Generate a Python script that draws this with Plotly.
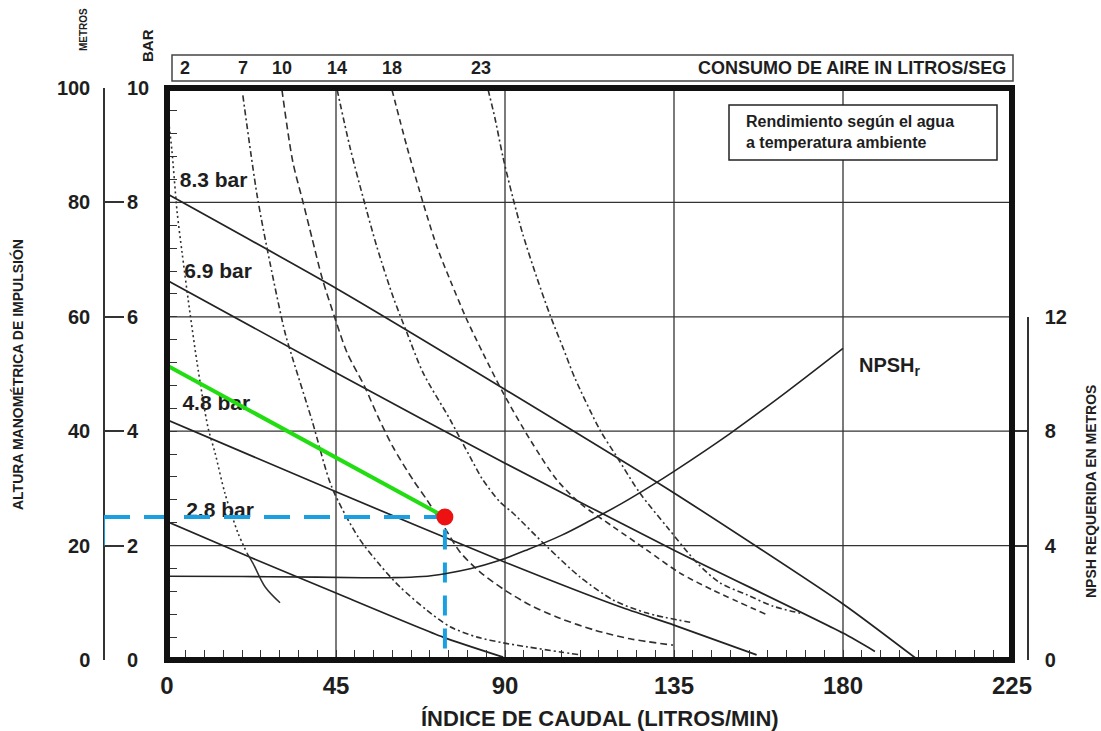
import plotly.graph_objects as go

# ---------------- data ----------------
flow_ticks = [0, 45, 90, 135, 180, 225]          # L/min
head_m_ticks = [0, 20, 40, 60, 80, 100]          # metros
head_bar_ticks = [0, 2, 4, 6, 8, 10]             # bar
npsh_ticks = [0, 4, 8, 12]                       # m NPSH
flow_minor_step = 5
head_minor_step = 4

pressure_labels = ["8.3 bar", "6.9 bar", "4.8 bar", "2.8 bar"]
p83_x = [0, 45, 90, 135, 180, 200]
p83_y = [81.5, 65.0, 47.3, 29.2, 9.8, 0.0]
p69_x = [0, 45, 90, 135, 180, 188.5]
p69_y = [66.4, 50.2, 34.4, 19.2, 4.7, 1.5]
p48_x = [0, 45, 90, 120.6, 135, 157]
p48_y = [42.0, 29.4, 17.1, 9.3, 6.1, 0.9]
p28_x = [0, 22, 45, 73.5, 89.5]
p28_y = [24.2, 18.0, 11.7, 4.0, 0.5]

air_labels = ["2", "7", "10", "14", "18", "23"]   # litros/seg
air2_x = [0.3, 1.3, 2.7, 4.0, 5.6, 8.0, 10.9, 12.8, 15.4, 18.9, 21.3]
air2_y = [95.0, 89.1, 78.3, 71.3, 63.2, 52.0, 40.7, 36.2, 29.2, 22.2, 18.7]
air2_end_x = [21.3, 22.9, 26.1, 30.1]
air2_end_y = [18.7, 16.9, 12.8, 10.0]
air7_x = [20.2, 24.0, 27.4, 31.4, 33.6, 38.6, 43.9, 50.9, 56.7, 62.0, 69.2, 75.4, 82.6, 89.5, 95.9, 104.7, 110.0]
air7_y = [98.7, 81.2, 69.5, 57.3, 52.4, 41.9, 30.2, 21.5, 16.6, 12.8, 8.7, 5.8, 4.0, 3.0, 2.3, 1.4, 0.9]
air10_x = [30.6, 33.5, 36.2, 38.6, 41.3, 44.7, 47.9, 52.7, 56.2, 60.2, 65.5, 69.2, 73.5, 78.0, 83.3, 90.0, 96.7, 104.6, 114.0, 123.3, 134.7]
air10_y = [99.7, 87.1, 80.1, 73.8, 66.8, 59.8, 53.8, 47.7, 42.5, 37.2, 31.5, 28.0, 23.6, 18.9, 15.4, 12.2, 9.6, 7.3, 5.2, 3.7, 2.6]
air14_x = [45.3, 48.7, 52.2, 55.9, 60.2, 63.9, 68.2, 75.4, 80.7, 84.1, 88.7, 92.1, 101.2, 110.0, 118.8, 127.8, 139.3]
air14_y = [99.7, 89.7, 80.9, 72.2, 63.5, 57.2, 50.2, 42.0, 35.5, 31.5, 27.6, 25.7, 19.8, 14.5, 10.5, 8.2, 6.6]
air18_x = [59.9, 63.9, 68.2, 71.9, 75.4, 79.9, 84.1, 89.5, 96.7, 103.8, 110.0, 118.8, 127.8, 136.6, 145.4, 159.8]
air18_y = [99.7, 89.7, 79.9, 72.2, 66.4, 59.4, 53.7, 46.7, 38.5, 31.5, 27.4, 23.3, 19.2, 15.2, 12.2, 7.9]
air23_x = [85.5, 87.3, 89.5, 92.1, 94.8, 98.5, 102.0, 105.5, 108.6, 115.3, 119.8, 125.9, 133.1, 141.1, 147.2, 154.4, 161.4, 168.6]
air23_y = [99.7, 94.8, 87.8, 80.8, 74.3, 66.8, 60.3, 54.5, 49.3, 40.2, 35.5, 29.2, 23.3, 17.0, 13.5, 11.4, 9.4, 8.2]

npsh_x = [0, 20, 40, 52, 60, 68, 74, 81, 88, 96, 105, 113, 121, 129, 135, 150, 165, 180]
npsh_y = [2.93, 2.92, 2.9, 2.88, 2.88, 2.92, 3.02, 3.2, 3.46, 3.86, 4.36, 4.9, 5.47, 6.1, 6.6, 7.93, 9.38, 10.9]

pump_x = [0, 74]
pump_y = [51.5, 25.0]
op_flow = 74
op_head = 25

# ---------------- layout geometry (pixels) ----------------
W, H = 1101, 731
L, R, T, B = 167, 1012, 88, 660
AX_OUT = 104
BAR_LBL_X = 126
NPSH_AX = 1028
NPSH_TOP = 317


def fx(p):
    return p / W


def fy(p):
    return 1 - p / H


XMAX = flow_ticks[-1]
x2_left = -(L - AX_OUT) / (R - L) * XMAX

BOLD = "Liberation Sans, Arial, sans-serif"
TXT = "#1e1e1e"
LINE = "#232323"
CURVE = "#303030"

fig = go.Figure()

# pressure labels (text trace so the guide line can pass over them)
lbl_x = [3.4, 4.6, 4.1, 5.1]
lbl_y = [83.6, 67.7, 44.6, 25.9]
fig.add_trace(go.Scatter(x=lbl_x, y=lbl_y, text=pressure_labels, mode="text",
                         textposition="middle right",
                         textfont=dict(family=BOLD, size=21, color=TXT, weight="bold"),
                         showlegend=False, hoverinfo="skip"))

# solid pressure lines
for xs, ys in [(p83_x, p83_y), (p69_x, p69_y), (p48_x, p48_y), (p28_x, p28_y)]:
    fig.add_trace(go.Scatter(x=xs, y=ys, mode="lines", line=dict(color=LINE, width=1.7, shape="spline", smoothing=0.6),
                             showlegend=False, hoverinfo="skip"))

# air consumption curves
air_curves = [
    (air2_x, air2_y, "2px,3px"),
    (air7_x, air7_y, "6px,3px,2px,3px"),
    (air10_x, air10_y, "7px,4px"),
    (air14_x, air14_y, "6px,3px,2px,3px"),
    (air18_x, air18_y, "6px,4px"),
    (air23_x, air23_y, "6px,3px,2px,3px"),
]
for xs, ys, d in air_curves:
    fig.add_trace(go.Scatter(x=xs, y=ys, mode="lines",
                             line=dict(color=CURVE, width=1.6, dash=d, shape="spline", smoothing=0.8),
                             showlegend=False, hoverinfo="skip"))
fig.add_trace(go.Scatter(x=air2_end_x, y=air2_end_y, mode="lines",
                         line=dict(color=CURVE, width=1.5, shape="spline"),
                         showlegend=False, hoverinfo="skip"))

# NPSHr curve on right axis
fig.add_trace(go.Scatter(x=npsh_x, y=npsh_y, mode="lines", xaxis="x", yaxis="y4",
                         line=dict(color=LINE, width=1.6, shape="spline", smoothing=1.0),
                         showlegend=False, hoverinfo="skip"))

# pump line (green)
fig.add_trace(go.Scatter(x=pump_x, y=pump_y, mode="lines", line=dict(color="#22dd11", width=4),
                         showlegend=False, hoverinfo="skip"))

# vertical guide from operating point to the flow axis
fig.add_trace(go.Scatter(x=[op_flow, op_flow], y=[op_head - 2.2, 0], mode="lines",
                         line=dict(color="#1aa0e0", width=4, dash="20px,13px"),
                         showlegend=False, hoverinfo="skip"))

# dummy traces for outer left axes
fig.add_trace(go.Scatter(x=[None], y=[None], yaxis="y2", showlegend=False, hoverinfo="skip"))
fig.add_trace(go.Scatter(x=[None], y=[None], yaxis="y3", showlegend=False, hoverinfo="skip"))

# horizontal guide to the outer head axis (x2 shares flow units but extends left)
fig.add_trace(go.Scatter(x=[x2_left, op_flow], y=[op_head, op_head], mode="lines", xaxis="x2", yaxis="y",
                         line=dict(color="#1aa0e0", width=4, dash="26px,14px"),
                         showlegend=False, hoverinfo="skip"))
fig.add_trace(go.Scatter(x=[x2_left, x2_left], y=[head_m_ticks[1], op_head], mode="lines", xaxis="x2", yaxis="y",
                         line=dict(color="#1aa0e0", width=2),
                         showlegend=False, hoverinfo="skip"))
fig.add_trace(go.Scatter(x=[op_flow], y=[op_head], mode="markers", xaxis="x2", yaxis="y",
                         marker=dict(color="#ee1111", size=17),
                         showlegend=False, hoverinfo="skip"))

shapes = []
# grid lines
for v in flow_ticks[1:-1]:
    shapes.append(dict(type="line", xref="x", yref="y", x0=v, x1=v, y0=0, y1=head_m_ticks[-1],
                       line=dict(color="#333333", width=1.3), layer="below"))
for v in head_m_ticks[1:-1]:
    shapes.append(dict(type="line", xref="x", yref="y", x0=0, x1=XMAX, y0=v, y1=v,
                       line=dict(color="#333333", width=1.3), layer="below"))
# thick frame
shapes.append(dict(type="rect", xref="paper", yref="paper", x0=fx(L), x1=fx(R), y0=fy(B), y1=fy(T),
                   line=dict(color="#111111", width=6), fillcolor="rgba(0,0,0,0)", layer="above"))
# air consumption header box
shapes.append(dict(type="rect", xref="paper", yref="paper", x0=fx(172), x1=fx(1013), y0=fy(81), y1=fy(55),
                   line=dict(color="#444444", width=1.5), fillcolor="rgba(0,0,0,0)", layer="above"))
# note box
shapes.append(dict(type="rect", xref="paper", yref="paper", x0=fx(729), x1=fx(997), y0=fy(160), y1=fy(105),
                   line=dict(color="#222222", width=1.5), fillcolor="white", layer="above"))

ann = []
ann.append(dict(text="CONSUMO DE AIRE IN LITROS/SEG", xref="paper", yref="paper", x=fx(1008), y=fy(68),
                xanchor="right", yanchor="middle", showarrow=False,
                font=dict(family=BOLD, size=18, color=TXT, weight="bold")))
air_label_x = [4.8, 20.2, 30.6, 45.3, 59.9, 83.6]
for t, xv in zip(air_labels, air_label_x):
    ann.append(dict(text=t, xref="x", yref="paper", x=xv, y=fy(68), xanchor="center", yanchor="middle",
                    showarrow=False, font=dict(family=BOLD, size=18, color=TXT, weight="bold")))
ann.append(dict(text="METROS", xref="paper", yref="paper", x=fx(83), y=fy(30), textangle=-90,
                xanchor="center", yanchor="middle",
                showarrow=False, font=dict(family=BOLD, size=10, color=TXT, weight="bold")))
ann.append(dict(text="BAR", xref="paper", yref="paper", x=fx(148), y=fy(45), textangle=-90,
                xanchor="center", yanchor="middle",
                showarrow=False, font=dict(family=BOLD, size=15, color=TXT, weight="bold")))
ann.append(dict(text="ALTURA MANOMÉTRICA DE IMPULSIÓN", xref="paper", yref="paper", x=fx(18), y=fy(375),
                xanchor="center", yanchor="middle",
                textangle=-90, showarrow=False, font=dict(family=BOLD, size=14, color=TXT, weight="bold")))
ann.append(dict(text="NPSH REQUERIDA EN METROS", xref="paper", yref="paper", x=fx(1091), y=fy(492),
                xanchor="center", yanchor="middle",
                textangle=-90, showarrow=False, font=dict(family=BOLD, size=14, color=TXT, weight="bold")))
ann.append(dict(text="ÍNDICE DE CAUDAL (LITROS/MIN)", xref="paper", yref="paper", x=fx(600), y=fy(718),
                xanchor="center", yanchor="middle",
                showarrow=False, font=dict(family=BOLD, size=22, color=TXT, weight="bold")))
ann.append(dict(text="Rendimiento según el agua<br>a temperatura ambiente", xref="paper", yref="paper",
                x=fx(744), y=fy(132), xanchor="left", yanchor="middle", align="left", showarrow=False,
                font=dict(family=BOLD, size=16, color=TXT, weight="bold")))
ann.append(dict(text="NPSH<sub>r</sub>", xref="paper", yref="paper", x=fx(857), y=fy(367),
                xanchor="left", yanchor="middle", showarrow=False,
                font=dict(family=BOLD, size=20, color=TXT, weight="bold")))

tick_font_big = dict(family=BOLD, size=24, color=TXT, weight="bold")
tick_font = dict(family=BOLD, size=20, color=TXT, weight="bold")

fig.update_layout(
    width=W, height=H, template="none",
    margin=dict(l=0, r=0, t=0, b=0),
    paper_bgcolor="white", plot_bgcolor="rgba(0,0,0,0)",
    showlegend=False,
    shapes=shapes, annotations=ann,
    xaxis=dict(domain=[fx(L), fx(R)], range=[0, XMAX], anchor="y",
               tickmode="array", tickvals=flow_ticks, ticktext=[str(v) for v in flow_ticks],
               ticks="", showgrid=False, zeroline=False, showline=False,
               tickfont=tick_font_big, ticklabelstandoff=9, automargin=False,
               minor=dict(tickmode="linear", tick0=0, dtick=flow_minor_step, ticks="inside",
                          ticklen=10, tickwidth=1.2, tickcolor="#333333", showgrid=False)),
    xaxis2=dict(domain=[fx(AX_OUT), fx(R)], range=[x2_left, XMAX], anchor="y", visible=False,
                automargin=False),
    yaxis=dict(domain=[fy(B), fy(T)], range=[0, head_m_ticks[-1]], anchor="x",
               tickmode="array", tickvals=head_m_ticks, showticklabels=False,
               ticks="", showgrid=False, zeroline=False, showline=False, automargin=False,
               minor=dict(tickmode="linear", tick0=0, dtick=head_minor_step, ticks="inside",
                          ticklen=10, tickwidth=1.2, tickcolor="#333333", showgrid=False)),
    yaxis2=dict(overlaying="y", anchor="free", position=fx(AX_OUT), side="left",
                range=[0, head_m_ticks[-1]], tickmode="array", tickvals=head_m_ticks,
                ticktext=[str(v) for v in head_m_ticks],
                showline=True, linecolor="#333333", linewidth=1.5,
                ticks="inside", ticklen=19, tickwidth=1.5, tickcolor="#333333",
                showgrid=False, zeroline=False, tickfont=tick_font, ticklabelstandoff=9,
                automargin=False),
    yaxis3=dict(overlaying="y", anchor="free", position=fx(BAR_LBL_X), side="right",
                range=[0, head_bar_ticks[-1]], tickmode="array", tickvals=head_bar_ticks,
                ticktext=[str(v) for v in head_bar_ticks],
                showline=False, ticks="", showgrid=False, zeroline=False, tickfont=tick_font,
                ticklabelstandoff=0, automargin=False),
    yaxis4=dict(domain=[fy(B), fy(NPSH_TOP)], anchor="free", position=fx(NPSH_AX), side="right",
                range=[0, npsh_ticks[-1]], tickmode="array", tickvals=npsh_ticks,
                ticktext=[str(v) for v in npsh_ticks],
                showline=True, linecolor="#333333", linewidth=1.5,
                ticks="inside", ticklen=12, tickwidth=1.5, tickcolor="#333333",
                showgrid=False, zeroline=False, tickfont=tick_font, ticklabelstandoff=12,
                automargin=False),
)

fig.write_html("out.html")
